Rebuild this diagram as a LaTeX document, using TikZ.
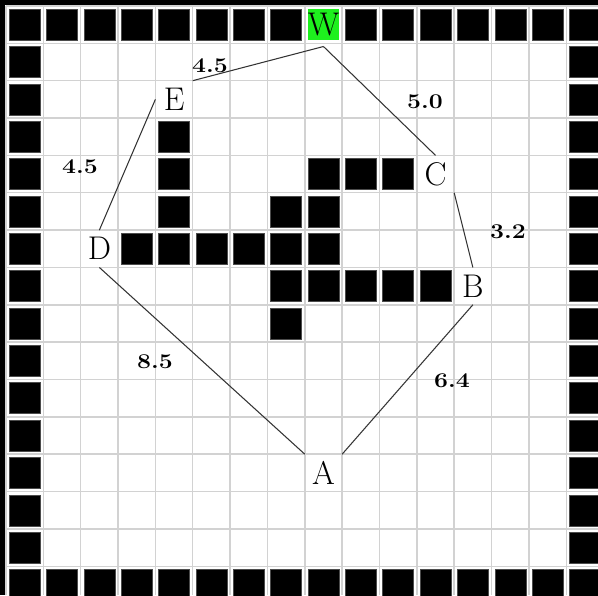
\documentclass[tikz,border=0pt]{standalone}
\usepackage{tikz}
\usepackage{graphicx}
\usetikzlibrary{positioning}
\definecolor{goal}{HTML}{1EF01E}
\definecolor{gridgray}{HTML}{D2D2D2}

\tikzset{
  cellline/.style={gridgray,line width=1.1pt},
  wall/.style={fill=black,draw=black!70,line width=0.3pt},
  spot/.style={minimum size=0.83cm,inner sep=0pt,outer sep=0.085cm,font=\fontsize{25}{29}\selectfont},
  dist/.style={font=\fontsize{16}{19}\selectfont\bfseries},
  route/.style={black!80,line width=0.8pt}
}
\newcommand{\wallcell}[2]{\path[wall] (#1+0.085,#2+0.085) rectangle ++(0.83,0.83);}
\newcommand{\widenum}[1]{\scalebox{1.18}[1]{#1}}

\begin{document}
\begin{tikzpicture}[x=1cm,y=-1cm]
\useasboundingbox (-0.16,-0.16) rectangle (15.85,15.77);
% grid and frame
\draw[cellline] (0,0) grid (15.85,15.77);
\fill[black] (-0.16,-0.16) rectangle (15.85,-0.03);
\fill[black] (-0.16,-0.16) rectangle (-0.03,15.77);
% outer wall
\foreach \i in {0,...,15} {\wallcell{\i}{15} \wallcell{0}{\i} \wallcell{15}{\i}}
\foreach \i in {0,...,7} {\wallcell{\i}{0}}
\foreach \i in {9,...,15} {\wallcell{\i}{0}}
% obstacles
\foreach \c/\r in {4/3,4/4,4/5,3/6,4/6,5/6,6/6,7/6,8/6,7/5,8/5,8/4,9/4,10/4,7/7,8/7,9/7,10/7,11/7,7/8} {\wallcell{\c}{\r}}
% stops
\node[spot] (A) at (8.5,12.5) {A};
\node[spot] (B) at (12.5,7.5) {B};
\node[spot] (C) at (11.5,4.5) {C};
\node[spot] (D) at (2.5,6.5) {D};
\node[spot] (E) at (4.5,2.5) {E};
\node[spot,fill=goal,outer sep=0.17cm] (W) at (8.5,0.5) {W};
% tour
\draw[route] (W.south) -- (C.north);
\draw[route] (C.south east) -- (B.north);
\draw[route] (B.south) -- (A.north east);
\draw[route] (A.north west) -- (D.south);
\draw[route] (D.north) -- (E.west);
\draw[route] (E.north east) -- (W.south);
% distances
\node[dist] (lWC) at (11.22,2.57) {\widenum{5.0}};
\node[dist] (lCB) at (13.44,6.05) {\widenum{3.2}};
\node[dist] (lBA) at (11.94,10.04) {\widenum{6.4}};
\node[dist] (lAD) at (3.99,9.53) {\widenum{8.5}};
\node[dist] (lDE) at (1.98,4.31) {\widenum{4.5}};
\node[dist] (lEW) at (5.46,1.61) {\widenum{4.5}};
\end{tikzpicture}
\end{document}
